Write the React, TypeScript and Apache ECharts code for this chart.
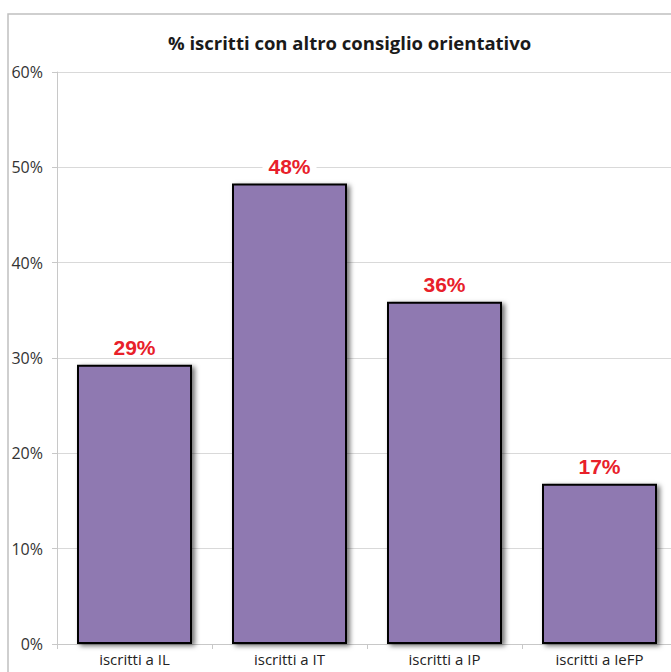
import React, { useEffect, useRef } from "react";
import * as echarts from "echarts";

const title = "% iscritti con altro consiglio orientativo";
const categories = ["iscritti a IL", "iscritti a IT", "iscritti a IP", "iscritti a IeFP"];
const values = [29.3, 48.3, 35.9, 16.8];
const yTicks = [0, 10, 20, 30, 40, 50, 60];

export default function App() {
  const ref = useRef<HTMLDivElement>(null);
  useEffect(() => {
    if (!ref.current) return;
    const chart = echarts.init(ref.current, null, { renderer: "svg" });
    const font = "'Open Sans', 'Noto Sans', sans-serif";
    chart.setOption({
      animation: false,
      backgroundColor: "#ffffff",
      title: {
        text: title,
        left: 163,
        top: 28,
        textStyle: { fontFamily: font, fontSize: 18.5, fontWeight: "bold", color: "#1a1a1a" },
      },
      graphic: [
        {
          type: "rect",
          shape: { x: 8, y: 14, width: 720, height: 700 },
          style: { fill: "none", stroke: "#c0c0c0", lineWidth: 1.5 },
          silent: true,
        },
      ],
      grid: { left: 57, top: 72, width: 620, height: 572 },
      xAxis: {
        type: "category",
        data: categories,
        boundaryGap: true,
        axisLine: { lineStyle: { color: "#c8c8c8", width: 1 } },
        axisTick: { show: true, length: 5, lineStyle: { color: "#c8c8c8" } },
        axisLabel: { fontFamily: font, fontSize: 15, color: "#222", margin: 7 },
      },
      yAxis: {
        type: "value",
        min: yTicks[0],
        max: yTicks[yTicks.length - 1],
        interval: 10,
        axisLine: { show: true, lineStyle: { color: "#c8c8c8", width: 1 } },
        axisTick: { show: true, length: 5, lineStyle: { color: "#c8c8c8" } },
        splitLine: { lineStyle: { color: "#d9d9d9", width: 1 } },
        axisLabel: {
          fontFamily: font,
          fontSize: 16,
          color: "#333",
          margin: 14,
          formatter: (v: number) => `${v}%`,
        },
      },
      series: [
        {
          type: "bar",
          data: values,
          barWidth: 115,
          itemStyle: {
            color: "#8f79b1",
            borderColor: "#000000",
            borderWidth: 2,
            shadowColor: "rgba(0,0,0,0.55)",
            shadowBlur: 5,
            shadowOffsetX: 3,
            shadowOffsetY: 2,
          },
          label: {
            show: true,
            position: "top",
            distance: 7,
            formatter: (p: any) => `${Math.round(p.value)}%`,
            fontFamily: "'Liberation Sans', Arial, sans-serif",
            fontSize: 21,
            fontWeight: "bold",
            color: "#e8202a",
            backgroundColor: "#ffffff",
            padding: [0, 6],
          },
        },
      ],
    });
    return () => chart.dispose();
  }, []);
  return (
    <div style={{ position: "fixed", left: 0, top: 0, width: 671, height: 672, overflow: "hidden" }}>
      <div ref={ref} style={{ width: 700, height: 672 }} />
    </div>
  );
}
